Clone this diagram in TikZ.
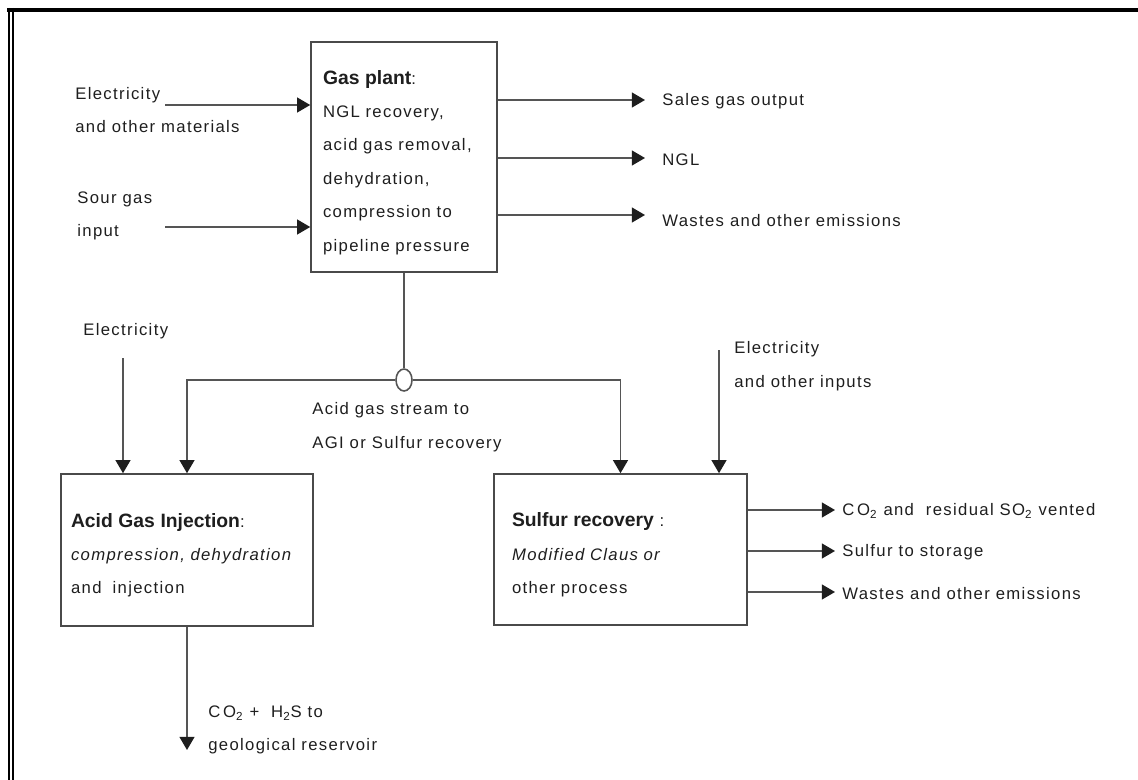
\documentclass[tikz,border=0pt]{standalone}
\usepackage{fontspec}
\setmainfont{Liberation Sans}[LetterSpace=8]
\newfontfamily\headfont{Liberation Sans}
\usepackage{tikz}
\usetikzlibrary{arrows.meta,positioning,shapes.geometric}
\definecolor{pfink}{HTML}{1E1E1E}
\definecolor{pfline}{HTML}{555555}
\definecolor{pfbox}{HTML}{4A4A4A}
\newcommand{\Lsize}{\fontsize{9.5}{19}\selectfont}
\newcommand{\Head}[1]{\rule{0pt}{14pt}{\headfont\bfseries\fontsize{11}{19}\selectfont #1}}
\newcommand{\COtwo}{C\,O\textsubscript{2}}

\begin{document}
\begin{tikzpicture}[
  x=0.02cm,
  y=-0.02cm,
  procbox/.style={draw=pfbox, line width=0.9pt, fill=white, align=left, font=\Lsize,
    text=pfink, inner ysep=0pt},
  lbl/.style={align=left, anchor=west, inner sep=0pt, font=\Lsize, text=pfink},
  link/.style={draw=pfline, line width=0.9pt},
  flow/.style={link, -{Triangle[length=7.5pt,width=8.5pt,color=pfink]}},
  junction/.style={ellipse, draw=pfline, line width=0.9pt, fill=white,
    minimum width=0.32cm, minimum height=0.44cm, inner sep=0pt}
]
\useasboundingbox (0,0) rectangle (1138,780);
% page frame
\draw[line width=0.08cm] (7,10) -- (1138,10);
\draw[line width=0.045cm] (8.8,8) -- (8.8,780);
\draw[line width=0.04cm] (12.6,8) -- (12.6,780);

% process boxes
\node[procbox, minimum height=4.6cm, text width=3.24cm, inner xsep=0.24cm] (plant) at (404,157)
  {\Head{Gas plant}:\\NGL recovery,\\acid gas removal,\\dehydration,\\compression to\\pipeline pressure};
\node[procbox, minimum height=3.04cm, text width=4.64cm, inner xsep=0.2cm] (agi) at (187,550)
  {\Head{Acid Gas Injection}:\\\textit{compression, dehydration}\\and \ injection};
\node[procbox, minimum height=3.02cm, text width=4.34cm, inner xsep=0.36cm] (sulfur) at (620.5,549.5)
  {\Head{Sulfur recovery} :\\\textit{Modified Claus or}\\other process};
\node[junction] (split) at (404,380) {};

% labels
\node[lbl] (elecmat) at (75,110) {Electricity\\and other materials};
\node[lbl] (sour) at (77,216) {Sour gas\\input};
\node[lbl] (sales) at (662,101) {Sales gas output};
\node[lbl] (ngl) at (662,160) {NGL};
\node[lbl] (waste1) at (662,221) {Wastes and other emissions};
\node[lbl] (elecagi) at (83,331) {Electricity};
\node[lbl] (stream) at (312,427) {Acid gas stream to\\AGI or Sulfur recovery};
\node[lbl] (elecsru) at (734,366) {Electricity\\and other inputs};
\node[lbl] (vent) at (842,511) {\COtwo\ and \ residual SO\textsubscript{2} vented};
\node[lbl] (storage) at (842,552) {Sulfur to storage};
\node[lbl] (waste2) at (842,594) {Wastes and other emissions};
\node[lbl] (reservoir) at (208,730) {\COtwo\ + \ H\textsubscript{2}S to\\geological reservoir};

% free ends
\coordinate (elecin) at (165,105);
\coordinate (sourin) at (165,227);
\coordinate (salesend) at (645,100);
\coordinate (nglend) at (645,158);
\coordinate (wasteend) at (645,215);
\coordinate (elecagitop) at (123,358);
\coordinate (elecsrutop) at (719,350);
\coordinate (ventend) at (835,510);
\coordinate (storageend) at (835,551);
\coordinate (waste2end) at (835,592);
\coordinate (wellend) at (187,750);

% gas plant streams
\draw[flow] (elecin) -- (elecin -| plant.west);
\draw[flow] (sourin) -- (sourin -| plant.west);
\draw[flow] (salesend -| plant.east) -- (salesend);
\draw[flow] (nglend -| plant.east) -- (nglend);
\draw[flow] (wasteend -| plant.east) -- (wasteend);

% acid gas split
\draw[link] (plant.south) -- (split.north);
\draw[flow] (split.west) -| (agi.north);
\draw[flow] (split.east) -| (sulfur.north);
\draw[flow] (elecagitop) -- (elecagitop |- agi.north);
\draw[flow] (elecsrutop) -- (elecsrutop |- sulfur.north);

% downstream
\draw[flow] (agi.south) -- (wellend);
\draw[flow] (ventend -| sulfur.east) -- (ventend);
\draw[flow] (storageend -| sulfur.east) -- (storageend);
\draw[flow] (waste2end -| sulfur.east) -- (waste2end);
\end{tikzpicture}
\end{document}
